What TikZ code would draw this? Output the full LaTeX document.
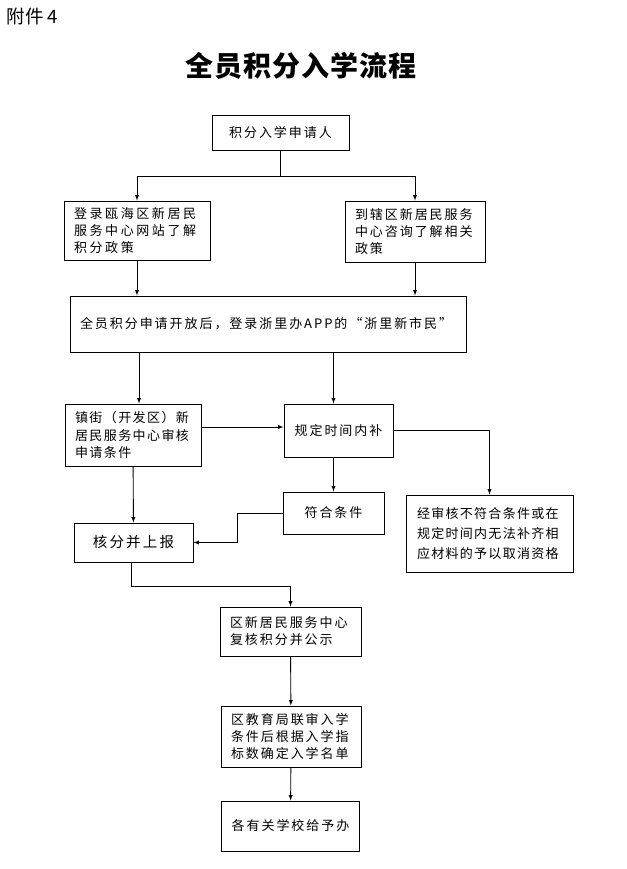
\documentclass[tikz,border=0pt]{standalone}
\usepackage{fontspec}
\newfontfamily\cjk{Noto Sans CJK SC}
\newfontfamily\cjkbox[LetterSpace=15]{Noto Sans CJK SC}
\newfontfamily\cjktitle[LetterSpace=4]{Noto Sans CJK SC}

\begin{document}
\begin{tikzpicture}[> = latex, x = 1pt, y = -1pt,
	box/.style = {draw, line width = 0.9pt, inner xsep = 10pt, inner ysep = 0pt,
		font = \cjkbox\fontsize{13}{17}\selectfont},
	steps/.style = {box, align = left, text width = #1},
	flow/.style = {->, line width = 0.9pt}]

	\useasboundingbox (0, 0) rectangle (626, 869);

	% Heading

	\node [anchor = west, font = \cjk\fontsize{18.5}{20}\selectfont] (annex) at (3, 16) {附件 4};
	\node [font = \cjktitle\bfseries\fontsize{28}{30}\selectfont] (title) at (301, 66) {全员积分入学流程};

	% Boxes

	\node [box, minimum width = 137pt, minimum height = 35pt] (apply) at (280.5, 132.5) {积分入学申请人};
	\node [steps = 126pt, minimum height = 59pt, font = \cjkbox\addfontfeature{LetterSpace=20}\fontsize{13}{17}\selectfont] (web) at (137, 230.5)
		{登录瓯海区新居民\\服务中心网站了解\\积分政策};
	\node [steps = 120pt, minimum height = 61pt] (consult) at (415, 231.5)
		{到辖区新居民服务\\中心咨询了解相关\\政策};
	\node [steps = 376pt, minimum height = 56pt] (app) at (268, 324)
		{全员积分申请开放后，登录浙里办APP的“浙里新市民”};
	\node [steps = 116pt, minimum height = 62pt, font = \cjkbox\addfontfeature{LetterSpace=11}\fontsize{13}{17.5}\selectfont] (street) at (133, 435)
		{镇街（开发区）新\\居民服务中心审核\\申请条件};
	\node [box, minimum width = 109pt, minimum height = 53pt] (supply) at (338.5, 430.5) {规定时间内补};
	\node [steps = 145pt, minimum height = 77pt, inner xsep = 11pt, font = \cjkbox\addfontfeature{LetterSpace=10}\fontsize{13}{20}\selectfont] (reject) at (489.5, 533.5)
		{经审核不符合条件或在\\规定时间内无法补齐相\\应材料的予以取消资格};
	\node [box, minimum width = 101pt, minimum height = 42pt] (meet) at (333.5, 513) {符合条件};
	\node [box, minimum width = 119pt, minimum height = 39pt, font = \cjkbox\fontsize{14.5}{17}\selectfont] (report) at (133.5, 542.5) {核分并上报};
	\node [steps = 121pt, minimum height = 49pt] (review) at (290.5, 631.5)
		{区新居民服务中心\\复核积分并公示};
	\node [steps = 120pt, minimum height = 61pt] (edu) at (291, 736.5)
		{区教育局联审入学\\条件后根据入学指\\标数确定入学名单};
	\node [box, minimum width = 137pt, minimum height = 50pt] (school) at (290.5, 826) {各有关学校给予办};

	% Connectors

	\coordinate (split) at (280.5, 176);
	\draw [line width = 0.9pt] (apply) -- (split);
	\draw [flow] (split) -| (web);
	\draw [flow] (split) -| (consult);
	\draw [flow] (web.south) -- (web.south |- app.north);
	\draw [flow] (consult.south) -- (consult.south |- app.north);
	\draw [flow] ([xshift = 6pt] street.north |- app.south) -- ([xshift = 6pt] street.north);
	\draw [flow] ([xshift = -5pt] supply.north |- app.south) -- ([xshift = -5pt] supply.north);
	\draw [flow] ([yshift = 8pt] street.east) -- ([yshift = 8pt] street.east -| supply.west);
	\draw [flow] (supply.east) -| (reject.north);
	\draw [flow] (meet.north |- supply.south) -- (meet.north);
	\draw [flow] (meet.west) -- ++(-45, 0) |- (report.east);
	\draw [flow] (street) -- (report);
	\draw [flow] ([xshift = -2pt] report.south) -- ++(0, 24) -| (review.north);
	\draw [flow] (review) -- (edu);
	\draw [flow] (edu) -- (school);

\end{tikzpicture}
\end{document}
